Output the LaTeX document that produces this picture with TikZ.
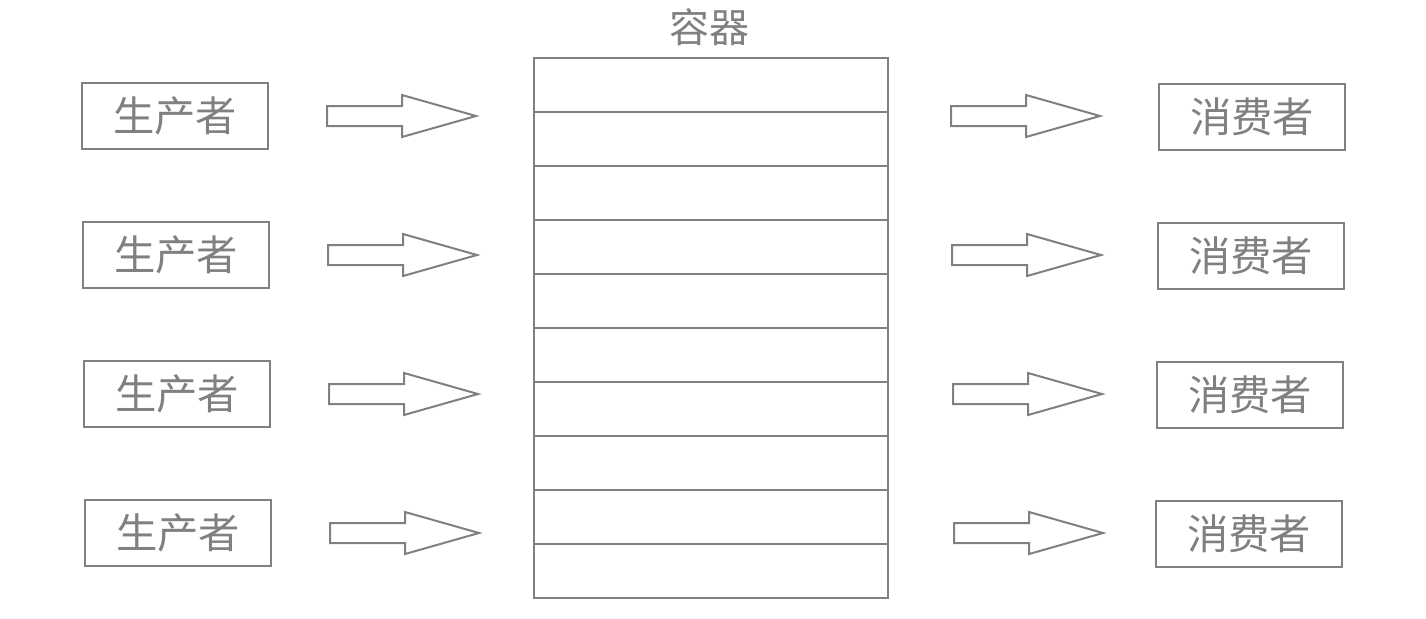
\documentclass[tikz,border=0pt]{standalone}
\usepackage{fontspec}
\newfontfamily\cjk{Noto Sans CJK SC}
\usetikzlibrary{positioning}
\definecolor{linegray}{RGB}{128,128,128}
\tikzset{
  rolebox/.style={draw=linegray,line width=1.5pt,minimum width=139.5pt,minimum height=49.5pt,inner sep=0pt,text=linegray,font=\cjk\fontsize{31}{33}\selectfont},
  flowarrow/.style={draw=linegray,line width=1.5pt,line join=miter}
}
\begin{document}
\begin{tikzpicture}[x=0.75pt,y=0.75pt,yscale=-1,xscale=1]
\useasboundingbox (0,0) rectangle (1426,618);

% container
\foreach \k in {0,...,9}
  \draw [linegray,line width=1.5pt] (534,58+54*\k) rectangle (888,112+54*\k);
\node (title) [text=linegray,font=\cjk\fontsize{30}{32}\selectfont] at (709,27) {容器};

% producers and consumers
\foreach \i/\yc in {1/116,2/255,3/394,4/533} {
  \node (prod\i) [rolebox] at (174+\i,\yc) {生产者};
  \node (cons\i) [rolebox] at (1253-\i,\yc+1) {消费者};
  % block arrows
  \draw [flowarrow] (326+\i,\yc-10) -- (401+\i,\yc-10) -- (401+\i,\yc-21) -- (475+\i,\yc) -- (401+\i,\yc+21) -- (401+\i,\yc+10) -- (326+\i,\yc+10) -- cycle;
  \draw [flowarrow] (950+\i,\yc-10) -- (1025+\i,\yc-10) -- (1025+\i,\yc-21) -- (1099+\i,\yc) -- (1025+\i,\yc+21) -- (1025+\i,\yc+10) -- (950+\i,\yc+10) -- cycle;
}

\end{tikzpicture}
\end{document}
